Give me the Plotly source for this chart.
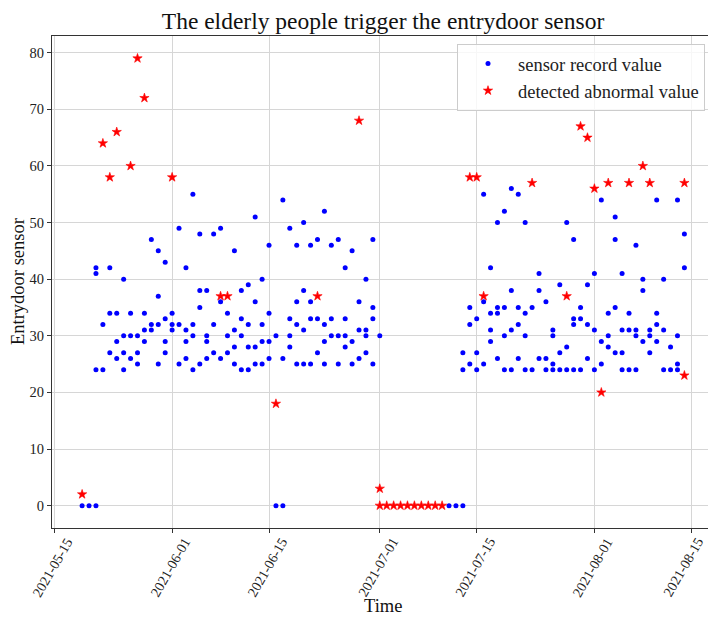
import plotly.graph_objects as go

# ---- data ----
record_days = [
    "2021-05-19", "2021-05-20", "2021-05-21", "2021-05-22", "2021-05-23", "2021-05-24",
    "2021-05-25", "2021-05-26", "2021-05-27", "2021-05-28", "2021-05-29", "2021-05-30",
    "2021-05-31", "2021-06-01", "2021-06-02", "2021-06-03", "2021-06-04", "2021-06-05",
    "2021-06-06", "2021-06-07", "2021-06-08", "2021-06-09", "2021-06-10", "2021-06-11",
    "2021-06-12", "2021-06-13", "2021-06-14", "2021-06-15", "2021-06-16", "2021-06-17",
    "2021-06-18", "2021-06-19", "2021-06-20", "2021-06-21", "2021-06-22", "2021-06-23",
    "2021-06-24", "2021-06-25", "2021-06-26", "2021-06-27", "2021-06-28", "2021-06-29",
    "2021-06-30", "2021-07-01", "2021-07-11", "2021-07-12", "2021-07-13", "2021-07-14",
    "2021-07-15", "2021-07-16", "2021-07-17", "2021-07-18", "2021-07-19", "2021-07-20",
    "2021-07-21", "2021-07-22", "2021-07-23", "2021-07-24", "2021-07-25", "2021-07-26",
    "2021-07-27", "2021-07-28", "2021-07-29", "2021-07-30", "2021-07-31", "2021-08-01",
    "2021-08-02", "2021-08-03", "2021-08-04", "2021-08-05", "2021-08-06", "2021-08-07",
    "2021-08-08", "2021-08-09", "2021-08-10", "2021-08-11", "2021-08-12", "2021-08-13",
    "2021-08-14",
]
record_values = [
    [0], [0], [0, 42, 41, 24], [32, 24], [42, 34, 27], [34, 29, 26],
    [40, 30, 27, 24], [34, 30, 26], [30, 27, 25], [34, 31, 29], [47, 32, 31], [45, 37, 32, 25],
    [43, 33, 29, 27], [34, 32, 31], [49, 32, 25], [42, 31, 29, 26], [55, 32, 30, 24], [48, 38, 35, 25],
    [38, 30, 29, 26], [48, 32, 27], [49, 36, 26], [34, 30, 27], [45, 31, 28, 25], [38, 33, 30, 24],
    [39, 32, 28, 24], [51, 36, 28, 25], [40, 32, 29, 25], [46, 34, 29, 26], [30, 0], [54, 26, 0],
    [49, 33, 30, 28], [46, 36, 32, 25], [50, 38, 31, 25], [46, 36, 33, 25], [47, 33, 27], [52, 32, 29, 25],
    [46, 33, 30], [47, 30, 25], [42, 33, 30, 28], [45, 29, 25], [36, 31, 26], [40, 31, 30, 27],
    [47, 35, 33, 25], [30], [0], [0], [0, 27, 24], [35, 32, 25],
    [33, 27, 24], [55, 36, 25], [42, 34, 31, 29], [50, 35, 34, 26], [52, 35, 30, 24], [56, 38, 31, 24],
    [55, 35, 32, 26], [50, 34, 30, 24], [35, 24], [41, 38, 26], [36, 26, 24], [31, 30, 25, 24],
    [39, 27, 24], [50, 28, 24], [47, 33, 32, 24], [35, 33, 24], [39, 32, 26], [41, 31, 24],
    [54, 29, 25], [34, 30, 28], [51, 47, 35, 27], [41, 31, 27, 24], [34, 31, 24], [46, 31, 30, 24],
    [40, 38, 29], [31, 30, 27], [54, 34, 32, 29], [40, 31, 24], [28, 24], [54, 30, 25, 24],
    [48, 42],
]

abnormal_dates = [
    "2021-05-19", "2021-05-22", "2021-05-23", "2021-05-24", "2021-05-26", "2021-05-27",
    "2021-05-28", "2021-06-01", "2021-06-08", "2021-06-09", "2021-06-16", "2021-06-22",
    "2021-06-28", "2021-07-01", "2021-07-01", "2021-07-02", "2021-07-03", "2021-07-04",
    "2021-07-05", "2021-07-06", "2021-07-07", "2021-07-08", "2021-07-09", "2021-07-10",
    "2021-07-14", "2021-07-15", "2021-07-16", "2021-07-23", "2021-07-28", "2021-07-30",
    "2021-07-31", "2021-08-01", "2021-08-02", "2021-08-03", "2021-08-06", "2021-08-08",
    "2021-08-09", "2021-08-14", "2021-08-14",
]
abnormal_values = [
    2, 64, 58, 66, 60, 79,
    72, 58, 37, 37, 18, 37,
    68, 3, 0, 0, 0, 0,
    0, 0, 0, 0, 0, 0,
    58, 58, 37, 57, 37, 67,
    65, 56, 20, 57, 57, 60,
    57, 57, 23,
]

x_tick_dates = ["2021-05-15", "2021-06-01", "2021-06-15", "2021-07-01",
                "2021-07-15", "2021-08-01", "2021-08-15"]
y_tick_values = [0, 10, 20, 30, 40, 50, 60, 70, 80]

title_text = "The elderly people trigger the entrydoor sensor"
x_label = "Time"
y_label = "Entrydoor sensor"

# ---- expand per-day records ----
rec_x, rec_y = [], []
for d, vals in zip(record_days, record_values):
    for v in vals:
        rec_x.append(d)
        rec_y.append(v)

FONT = "Liberation Serif"
W, H = 708, 617
ML, MR, MT, MB = 52, 0, 36, 89
PW, PH = W - ML - MR, H - MT - MB

fig = go.Figure()
fig.add_trace(go.Scatter(
    x=rec_x, y=rec_y, mode="markers", name="sensor record value",
    marker=dict(color="#0000ff", size=5, line=dict(width=0)),
))
fig.add_trace(go.Scatter(
    x=abnormal_dates, y=abnormal_values, mode="markers", name="detected abnormal value",
    marker=dict(color="#ff0000", size=7, symbol="star", line=dict(width=0.6, color="#ff0000")),
))

annotations = []
for i, d in enumerate(x_tick_dates):
    annotations.append(dict(
        x=d, xref="x", y=(MT + PH - 567.5) / PH, yref="paper",
        text=d, showarrow=False, textangle=-60,
        xshift=-1.5 if i < len(x_tick_dates) - 1 else -8,
        xanchor="center", yanchor="middle",
        font=dict(family=FONT, size=14, color="#222222"),
    ))
annotations.append(dict(
    x=(383 - ML) / PW, xref="paper", y=(MT + PH - 606) / PH, yref="paper",
    text=x_label, showarrow=False, xanchor="center", yanchor="middle",
    font=dict(family=FONT, size=18.5, color="#111111"),
))
annotations.append(dict(
    x=(18 - ML) / PW, xref="paper", y=(MT + PH - 282) / PH, yref="paper",
    text=y_label, showarrow=False, textangle=-90, xanchor="center", yanchor="middle",
    font=dict(family=FONT, size=18.5, color="#111111"),
))

fig.update_layout(
    width=W, height=H,
    margin=dict(l=ML, r=MR, t=MT, b=MB, pad=0),
    paper_bgcolor="white", plot_bgcolor="white",
    font=dict(family=FONT, color="#222222"),
    title=dict(text=title_text, x=383 / W, xref="container", xanchor="center",
               y=1 - 21 / H, yref="container", yanchor="middle",
               font=dict(family=FONT, size=23.5, color="#111111")),
    xaxis=dict(
        type="date", range=["2021-05-14 15:36", "2021-08-17 09:50"],
        tickvals=x_tick_dates, showticklabels=False,
        ticks="outside", ticklen=4, tickcolor="#333333", tickwidth=1,
        showgrid=True, gridcolor="#d6d6d6", gridwidth=1,
        showline=True, linecolor="#333333", linewidth=1, mirror=True,
        zeroline=False,
    ),
    yaxis=dict(
        range=[-3.95, 82.95], tickvals=y_tick_values,
        ticks="outside", ticklen=4, tickcolor="#333333", tickwidth=1,
        tickfont=dict(family=FONT, size=14.5, color="#222222"),
        showgrid=True, gridcolor="#d6d6d6", gridwidth=1,
        showline=True, linecolor="#333333", linewidth=1, mirror=False,
        zeroline=False,
    ),
    legend=dict(
        x=(457 - ML) / PW, y=(MT + PH - 44) / PH, xanchor="left", yanchor="top",
        font=dict(family=FONT, size=18.5, color="#222222"),
        bgcolor="rgba(255,255,255,0.8)", bordercolor="#cccccc", borderwidth=1,
        itemwidth=50,
    ),
    annotations=annotations,
    showlegend=True,
)

fig.write_html("out.html")
